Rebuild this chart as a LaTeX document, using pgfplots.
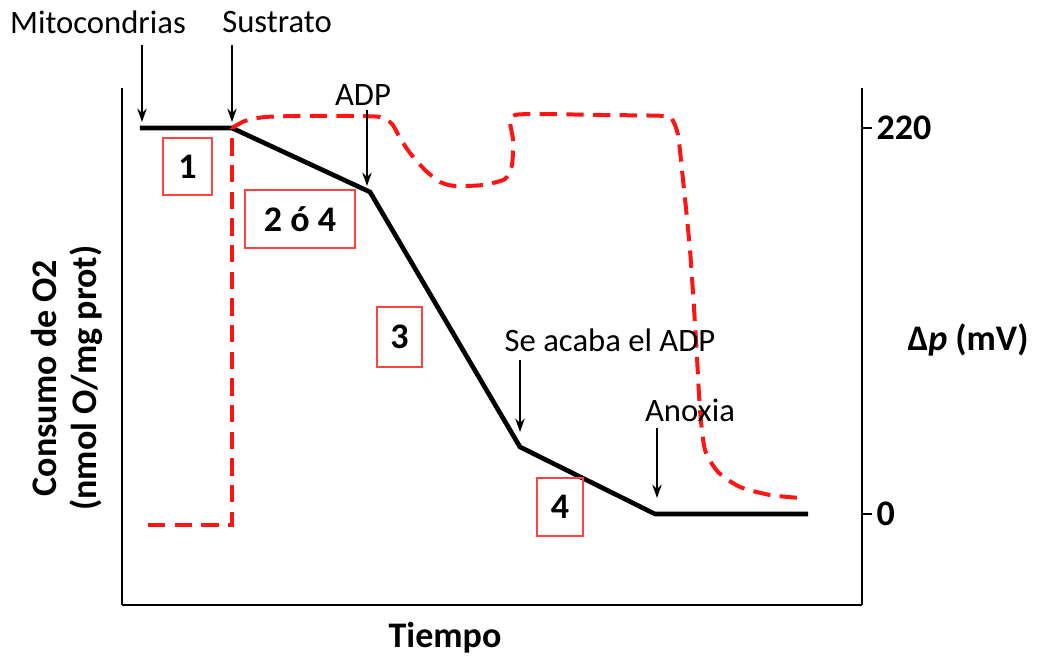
\documentclass[border=0pt]{standalone}
\usepackage{fontspec}
\setmainfont{Carlito}
\usepackage{pgfplots}
\pgfplotsset{compat=1.18}
\usetikzlibrary{arrows.meta}
\definecolor{myred}{RGB}{255,20,20}
\newcommand{\regf}{\fontsize{24.5}{28}\selectfont}
\newcommand{\bigf}{\bfseries\fontsize{27}{30}\selectfont}
\begin{document}
\begin{tikzpicture}
\begin{axis}[
  scale only axis, width=555pt, height=387.75pt,
  xmin=122, xmax=862, ymin=-605, ymax=-88,
  axis x line=bottom, axis y line=right,
  axis line style={-, line width=1.5pt, black},
  xtick=\empty, ytick={-514,-128}, yticklabels={0,220},
  tick align=outside, major tick length=7.5pt,
  tick style={line width=1.5pt, black},
  yticklabel style={font=\bigf},
  clip=false,
]
\path (axis cs:0,0) coordinate (tl) (axis cs:1037,-659) coordinate (br);
\draw[line width=1.5pt] (axis cs:122,-88) -- (axis cs:122,-605);
% black line
\addplot[black, line width=3.5pt, line join=miter] coordinates {
(140,-128) (232,-128) (370,-192) (520,-447) (655,-514) (808,-514)};
% red dashed
\addplot[myred, line width=3pt, dash pattern=on 13pt off 7pt] coordinates {
(148,-525) (232,-525) (232,-128)};
\addplot[myred, line width=3pt, dash pattern=on 13pt off 7pt, smooth, tension=0.4] coordinates {
(232,-128) (245,-121) (265,-117) (300,-116) (350,-116) (380,-117) (392,-124) (400,-138) (410,-153) (425,-170) (440,-182) (455,-186) (483,-185) (505,-179) (512,-165) (513,-140) (510,-122) (515,-115) (540,-114) (600,-115) (665,-116) (673,-121) (678,-135) (682,-170) (690,-250) (696,-340) (700,-410) (705,-450) (718,-472) (740,-487) (770,-495) (800,-498)};
% arrows
\draw[-{Stealth[length=10pt,width=7pt]}, line width=1.3pt] (axis cs:142,-45) -- (axis cs:142,-122);
\draw[-{Stealth[length=10pt,width=7pt]}, line width=1.3pt] (axis cs:232,-45) -- (axis cs:232,-122);
\draw[-{Stealth[length=10pt,width=7pt]}, line width=1.3pt] (axis cs:367,-110) -- (axis cs:367,-186);
\draw[-{Stealth[length=10pt,width=7pt]}, line width=1.3pt] (axis cs:520,-360) -- (axis cs:520,-432);
\draw[-{Stealth[length=10pt,width=7pt]}, line width=1.3pt] (axis cs:657,-428) -- (axis cs:657,-498);
% labels
\node[font=\regf] at (axis cs:98,-22) {Mitocondrias};
\node[font=\regf] at (axis cs:277,-22) {Sustrato};
\node[font=\regf] at (axis cs:363,-95) {ADP};
\node[font=\regf] at (axis cs:610,-340) {Se acaba el ADP};
\node[font=\regf] at (axis cs:690,-410) {Anoxia};
\node[font=\bigf] at (axis cs:445,-638) {Tiempo};
\node[font=\bigf] at (axis cs:968,-340) {Δ\textit{p} (mV)};
\node[font=\bigf, rotate=90, align=center] at (axis cs:67,-378) {Consumo de O2\\(nmol O/mg prot)};
% boxes
\node[draw=myred!80, line width=1pt, inner sep=0pt, minimum width=36.75pt, minimum height=42.75pt, font=\bigf] at (axis cs:187.5,-166.5) {1};
\node[draw=myred!80, line width=1pt, inner sep=0pt, minimum width=82.5pt, minimum height=43.5pt, font=\bigf] at (axis cs:300,-219) {2 ó 4};
\node[draw=myred!80, line width=1pt, inner sep=0pt, minimum width=33.75pt, minimum height=45pt, font=\bigf] at (axis cs:399.5,-337) {3};
\node[draw=myred!80, line width=1pt, inner sep=0pt, minimum width=34.5pt, minimum height=43.5pt, font=\bigf] at (axis cs:560,-507) {4};
\end{axis}
\pgfresetboundingbox
\path[use as bounding box] (tl) rectangle (br);
\end{tikzpicture}
\end{document}
